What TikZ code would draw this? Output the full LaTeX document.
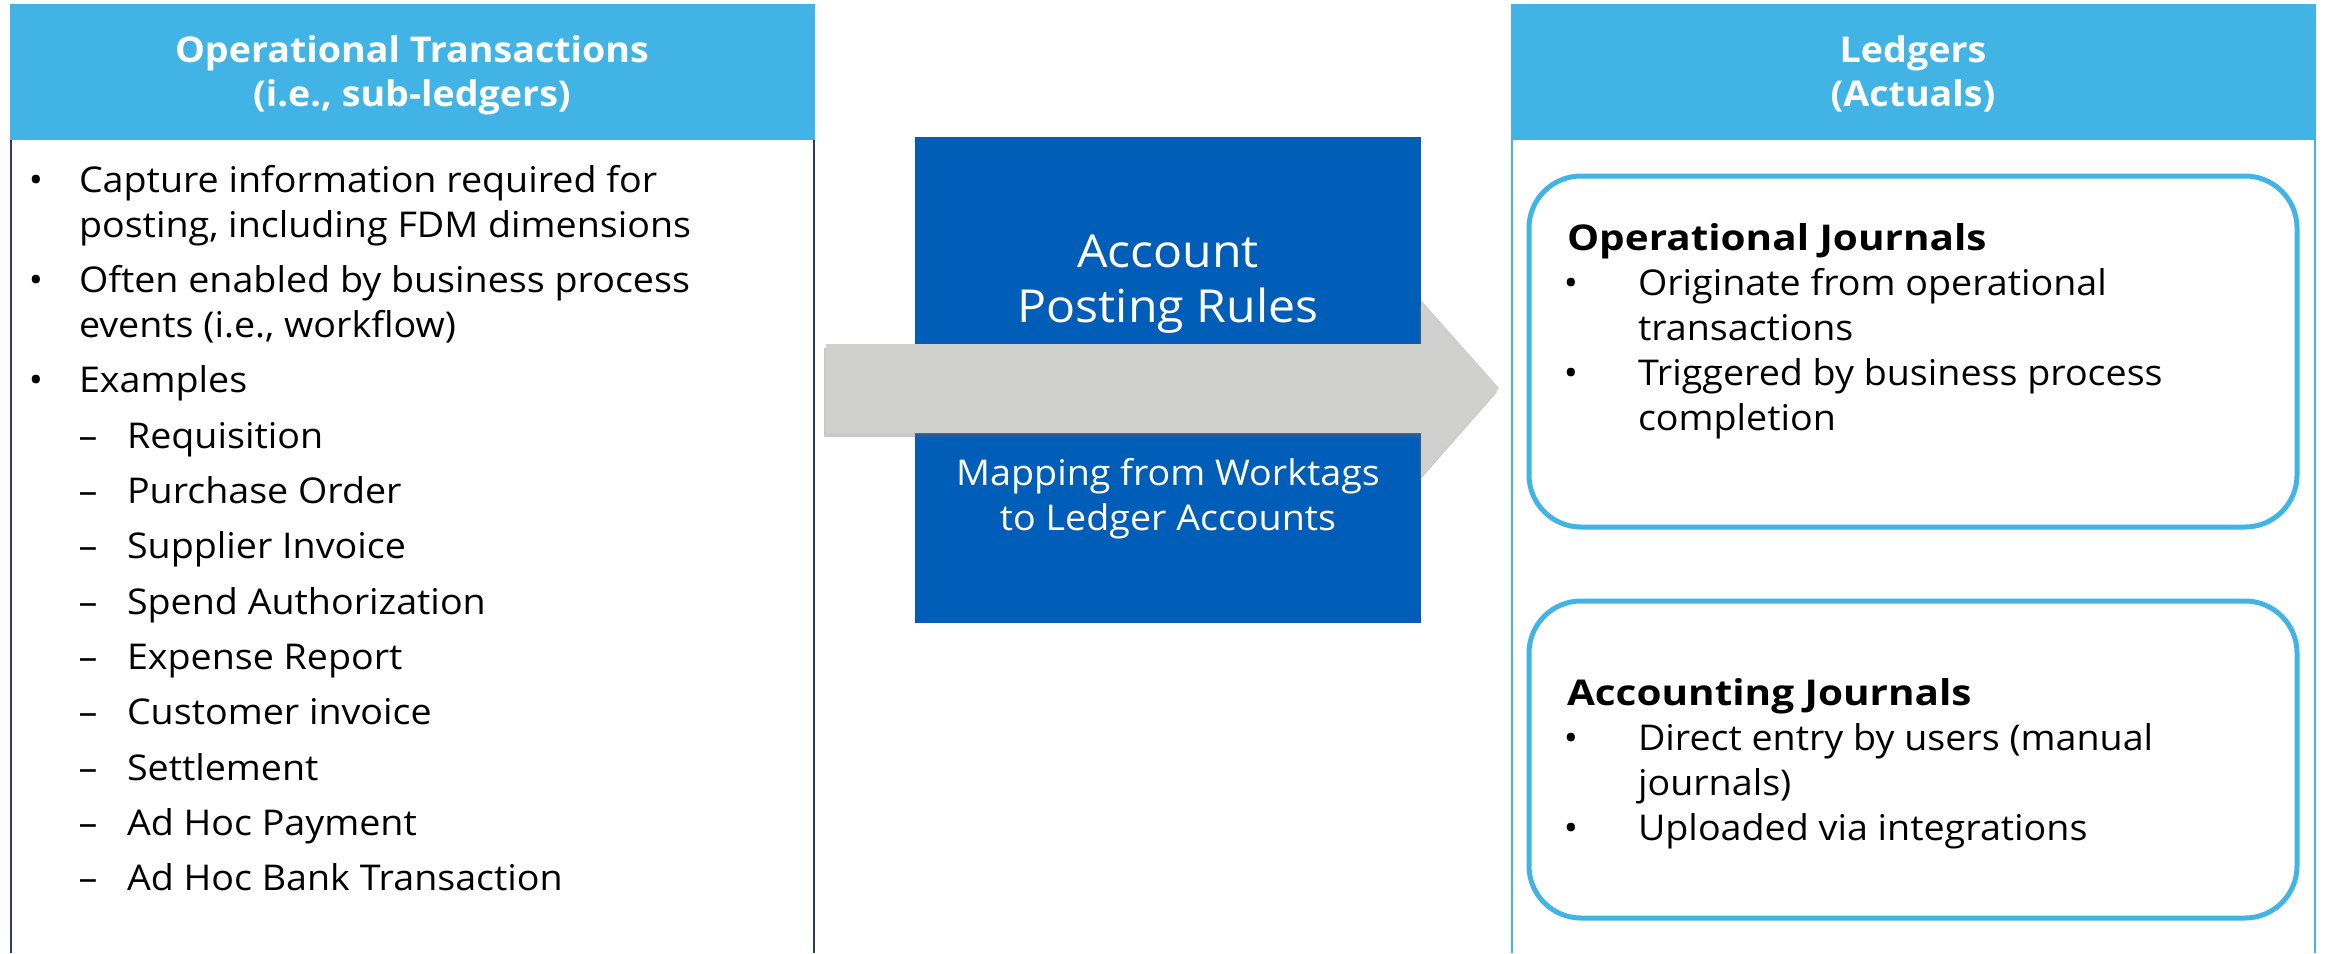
\documentclass[tikz,border=0pt]{standalone}
\usepackage{fontspec}
\setmainfont{Open Sans}[FakeStretch=1.06]
\newfontfamily\widebold{Open Sans}[FakeStretch=1.14]
\usetikzlibrary{shadows}
\definecolor{hdrblue}{HTML}{41B4E5}
\definecolor{boxblue}{HTML}{005EB8}
\definecolor{arrowgray}{HTML}{D0D0CE}
\definecolor{navy}{HTML}{2E3A66}
\begin{document}
\begin{tikzpicture}[x=1pt,y=-1pt,
  every node/.style={inner sep=0pt,outer sep=0pt},
  body/.style={font=\fontsize{35.5}{45}\selectfont,text=black,anchor=base west},
  bulletmark/.style={font=\fontsize{35.5}{45}\selectfont,text=black,anchor=base},
  hdrtext/.style={font=\fontsize{35.5}{42}\bfseries,text=white,anchor=base},
  subhead/.style={font=\widebold\fontsize{35.5}{42}\bfseries,text=black,anchor=base west},
  bigwhite/.style={font=\fontsize{45.5}{55}\selectfont,text=white,anchor=base},
  midwhite/.style={font=\fontsize{35.5}{45}\selectfont,text=white,anchor=base},
  journalbox/.style={draw=hdrblue,line width=5pt,rounded corners=52pt,fill=white}]
\useasboundingbox (0,0) rectangle (2325,953);
\fill[white] (0,0) rectangle (2325,953);

% ---------- left panel ----------
\fill[hdrblue] (10,4) rectangle (815,140);
\draw[navy,line width=2.5pt] (11,140) -- (11,953);
\draw[navy,line width=2.5pt] (814,140) -- (814,953);
\node[hdrtext] (lt1) at (412,62) {Operational Transactions};
\node[hdrtext] (lt2) at (412,106) {(i.e., sub-ledgers)};

\node[bulletmark] (b1) at (36,192) {•};
\node[body] (l1) at (79,192) {Capture information required for};
\node[body] (l2) at (79,237) {posting, including FDM dimensions};
\node[bulletmark] (b2) at (36,292) {•};
\node[body] (l3) at (79,292) {Often enabled by business process};
\node[body] (l4) at (79,337) {events (i.e., workflow)};
\node[bulletmark] (b3) at (36,392) {•};
\node[body] (l5) at (79,392) {Examples};

\foreach \y/\t [count=\i] in {448/Requisition,503/Purchase Order,558/Supplier Invoice,614/Spend Authorization,669/Expense Report,724/Customer invoice,780/Settlement,835/Ad Hoc Payment,890/Ad Hoc Bank Transaction}{
  \node[bulletmark] (d\i) at (88,\y) {–};
  \node[body] (e\i) at (127,\y) {\t};
}

% ---------- middle ----------
\fill[boxblue] (915,137) rectangle (1421,623);
\node[bigwhite] (m1) at (1168,267) {Account};
\node[bigwhite] (m2) at (1168,322) {Posting Rules};
\coordinate (a1) at (826,344);
\coordinate (a2) at (1421,344);
\coordinate (a3) at (1421,300);
\coordinate (a4) at (1499,388);
\coordinate (a5) at (1421,477);
\coordinate (a6) at (1421,433);
\coordinate (a7) at (826,433);
\fill[arrowgray,drop shadow={shadow xshift=-2pt,shadow yshift=-4pt,opacity=0.35,fill=black!60}]
  (a1) -- (a2) -- (a3) -- (a4) -- (a5) -- (a6) -- (a7) -- cycle;
\node[midwhite] (m3) at (1168,485) {Mapping from Worktags};
\node[midwhite] (m4) at (1168,530) {to Ledger Accounts};

% ---------- right panel ----------
\fill[hdrblue] (1511,4) rectangle (2316,140);
\draw[hdrblue,line width=2.5pt] (1512,140) -- (1512,953);
\draw[hdrblue,line width=2.5pt] (2315,140) -- (2315,953);
\node[hdrtext] (rt1) at (1913,62) {Ledgers};
\node[hdrtext] (rt2) at (1913,106) {(Actuals)};

\draw[journalbox] (1529,176) rectangle (2297,527);
\node[subhead] (oj) at (1567,250) {Operational Journals};
\node[bulletmark] (ob1) at (1571,295) {•};
\node[body] (o1) at (1638,295) {Originate from operational};
\node[body] (o2) at (1638,340) {transactions};
\node[bulletmark] (ob2) at (1571,385) {•};
\node[body] (o3) at (1638,385) {Triggered by business process};
\node[body] (o4) at (1638,430) {completion};

\draw[journalbox] (1529,601) rectangle (2297,918);
\node[subhead] (aj) at (1567,705) {Accounting Journals};
\node[bulletmark] (ab1) at (1571,750) {•};
\node[body] (a8) at (1638,750) {Direct entry by users (manual};
\node[body] (a9) at (1638,795) {journals)};
\node[bulletmark] (ab2) at (1571,840) {•};
\node[body] (a10) at (1638,840) {Uploaded via integrations};
\end{tikzpicture}
\end{document}
